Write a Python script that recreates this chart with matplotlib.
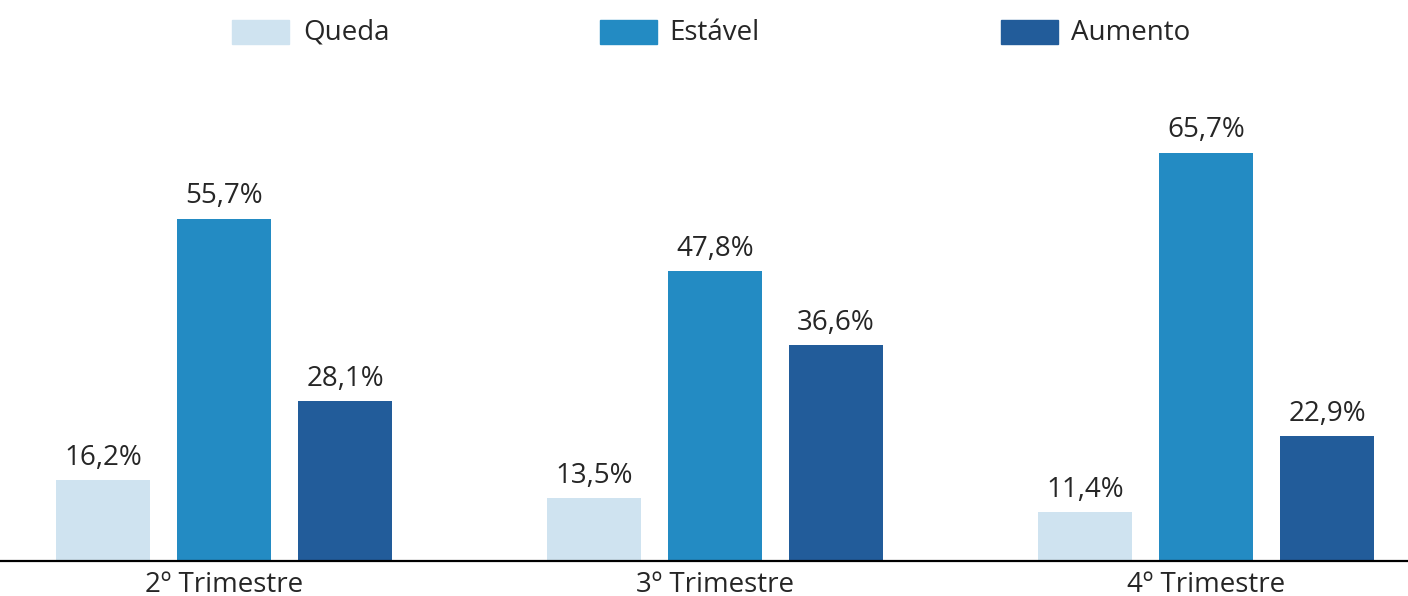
import matplotlib
matplotlib.use("Agg")
import matplotlib.pyplot as plt
from matplotlib.patches import Rectangle
import numpy as np

plt.rcParams.update({
    "font.family": ["Open Sans", "DejaVu Sans"],
    "text.color": "#262626",
})

categories = ["2º Trimestre", "3º Trimestre", "4º Trimestre"]
series_names = ["Queda", "Estável", "Aumento"]
queda = [16.2, 13.5, 11.4]
estavel = [55.7, 47.8, 65.7]
aumento = [28.1, 36.6, 22.9]
colors = ["#cfe3f0", "#238bc3", "#225c9a"]

W, H = 1408, 596
fig = plt.figure(figsize=(W / 100, H / 100), dpi=100)

# axes spans full width; baseline at y=561 px from top
base_px = 561
ax = fig.add_axes([0, (H - base_px) / H, 1, base_px / H])

group_step = 491.0
bar_step = 121.0 / group_step
bar_w = 94.0 / group_step
x = np.arange(len(categories))
fs = 20

for i, (vals, col) in enumerate(zip([queda, estavel, aumento], colors)):
    xs = x + (i - 1) * bar_step
    bars = ax.bar(xs, vals, width=bar_w, color=col, zorder=2)
    for b, v in zip(bars, vals):
        ax.annotate(f"{v:.1f}%".replace(".", ","),
                    (b.get_x() + b.get_width() / 2, v),
                    xytext=(0, 6), textcoords="offset points",
                    ha="center", va="bottom", fontsize=fs, color="#262626")

y0 = 4.0
ax.set_xlim(-224 / group_step, (W - 224) / group_step)
ax.set_ylim(y0, y0 + base_px / 6.62)

for s in ["top", "right", "left"]:
    ax.spines[s].set_visible(False)
ax.spines["bottom"].set_linewidth(1.6)
ax.spines["bottom"].set_color("#000000")
ax.set_yticks([])
ax.set_xticks(x)
ax.set_xticklabels(categories, fontsize=fs, color="#262626")
ax.tick_params(axis="x", length=0, pad=7)
ax.patch.set_alpha(0)

# legend drawn manually at top
leg_patch_x = [232, 600, 1001]
leg_text_x = [303, 669, 1071]
for px, tx, name, col in zip(leg_patch_x, leg_text_x, series_names, colors):
    fig.patches.append(Rectangle((px / W, (H - 44) / H), 57 / W, 24 / H,
                                 transform=fig.transFigure, color=col))
    fig.text(tx / W, (H - 33) / H, name, ha="left", va="center",
             fontsize=fs, color="#262626")

fig.savefig("out.png", dpi=100, facecolor="white")
